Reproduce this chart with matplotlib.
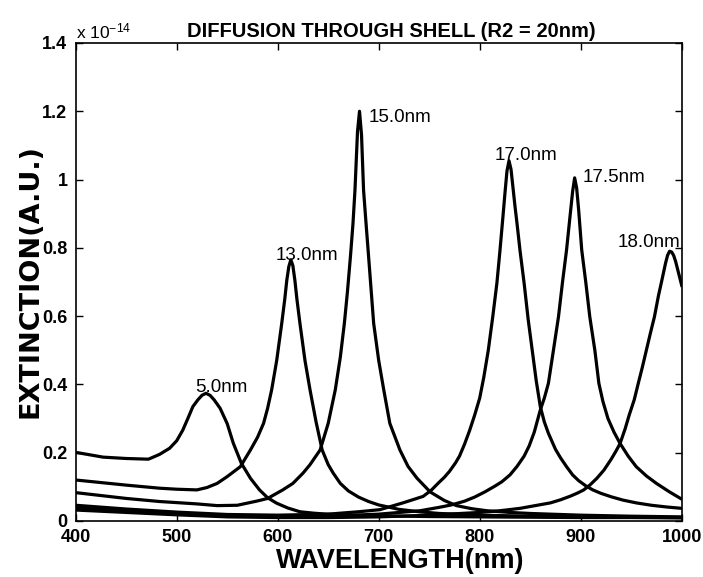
import numpy as np
import matplotlib
matplotlib.use('Agg')
import matplotlib.pyplot as plt
from matplotlib.ticker import FormatStrFormatter

plt.rcParams['font.family'] = ['Liberation Sans', 'DejaVu Sans']
plt.rcParams['mathtext.default'] = 'regular'

# extinction values, in units of 1e-14
wl_5 = [400, 427, 450, 472, 483, 493, 500, 506, 511, 516, 521, 525, 529, 533, 537, 543, 550, 556,
        564, 573, 582, 590, 599, 610, 622, 635, 648, 675, 700, 750, 800, 850, 900, 950, 1000]
ext_5 = [0.201, 0.187, 0.183, 0.181, 0.195, 0.213, 0.235, 0.266, 0.300, 0.335, 0.355, 0.368, 0.374,
         0.368, 0.355, 0.330, 0.285, 0.228, 0.169, 0.125, 0.091, 0.068, 0.052, 0.038, 0.027, 0.023,
         0.020, 0.017, 0.015, 0.013, 0.012, 0.011, 0.010, 0.010, 0.009]

wl_13 = [400, 450, 483, 500, 520, 530, 540, 550, 563, 573, 580, 586, 590, 594, 599, 604, 607, 609,
         611, 613, 615, 617, 619, 622, 627, 632, 638, 644, 650, 655, 662, 670, 680, 690, 700, 720,
         740, 760, 800, 850, 900, 950, 1000]
ext_13 = [0.120, 0.105, 0.096, 0.093, 0.091, 0.098, 0.110, 0.130, 0.159, 0.208, 0.245, 0.286, 0.330,
          0.384, 0.470, 0.579, 0.650, 0.705, 0.745, 0.765, 0.748, 0.705, 0.650, 0.579, 0.470, 0.384,
          0.290, 0.208, 0.165, 0.140, 0.110, 0.088, 0.070, 0.057, 0.047, 0.034, 0.027, 0.022, 0.017,
          0.014, 0.012, 0.011, 0.010]

wl_15 = [400, 450, 483, 520, 540, 560, 579, 590, 605, 615, 625, 632, 642, 650, 657, 662, 666, 669,
         672, 674.5, 676.5, 679, 681, 683, 685, 687.5, 690, 695, 700, 705, 711, 721, 729, 738, 751,
         765, 777, 792, 807, 830, 850, 900, 950, 1000]
ext_15 = [0.083, 0.066, 0.057, 0.050, 0.045, 0.046, 0.058, 0.066, 0.091, 0.110, 0.140, 0.165, 0.208,
          0.286, 0.384, 0.480, 0.579, 0.670, 0.774, 0.870, 0.969, 1.140, 1.200, 1.130, 0.969, 0.870,
          0.774, 0.579, 0.470, 0.384, 0.286, 0.208, 0.160, 0.125, 0.085, 0.060, 0.045, 0.036, 0.030,
          0.025, 0.022, 0.017, 0.014, 0.012]

wl_170 = [400, 450, 500, 550, 600, 650, 680, 701, 724, 744, 752, 759, 765, 770, 776, 780, 785, 790,
          795, 800, 804, 808.5, 813, 817, 820, 823, 825, 827, 829, 831, 833, 835, 837, 840, 844, 848,
          852, 856, 860, 864, 868, 875, 880, 886, 892, 898, 905, 912, 920, 930, 942, 955, 970, 985,
          1000]
ext_170 = [0.046, 0.035, 0.026, 0.019, 0.017, 0.020, 0.027, 0.033, 0.053, 0.072, 0.090, 0.111, 0.128,
           0.145, 0.170, 0.190, 0.225, 0.265, 0.310, 0.360, 0.420, 0.500, 0.600, 0.696, 0.790, 0.891,
           0.960, 1.025, 1.055, 1.030, 0.975, 0.920, 0.870, 0.790, 0.696, 0.590, 0.500, 0.410, 0.335,
           0.290, 0.257, 0.210, 0.185, 0.159, 0.135, 0.118, 0.103, 0.091, 0.081, 0.071, 0.061, 0.053,
           0.046, 0.041, 0.037]

wl_175 = [400, 450, 500, 550, 600, 650, 700, 741, 760, 772, 785, 795, 805, 815, 822, 830, 837, 844,
          849, 854, 860, 864, 868, 873, 878, 882, 886, 889, 892, 894, 896, 898, 901, 905, 909, 914,
          918, 922, 927, 933, 939, 947, 955, 965, 975, 988, 1000]
ext_175 = [0.038, 0.030, 0.022, 0.015, 0.012, 0.014, 0.020, 0.030, 0.040, 0.047, 0.058, 0.070, 0.085,
           0.102, 0.115, 0.135, 0.160, 0.190, 0.220, 0.260, 0.325, 0.360, 0.403, 0.500, 0.598, 0.700,
           0.794, 0.880, 0.965, 1.005, 0.975, 0.910, 0.794, 0.700, 0.598, 0.500, 0.403, 0.350, 0.300,
           0.260, 0.227, 0.190, 0.159, 0.132, 0.110, 0.085, 0.064]

wl_180 = [400, 450, 500, 550, 600, 650, 700, 750, 800, 820, 840, 855, 870, 880, 890, 897, 903, 909,
          916, 923, 930, 935, 939, 944, 948, 953, 957, 961, 965, 969, 973, 977, 980, 984, 986, 988,
          990, 992, 994, 997, 1000]
ext_180 = [0.032, 0.025, 0.018, 0.012, 0.010, 0.010, 0.012, 0.017, 0.025, 0.030, 0.037, 0.045, 0.053,
           0.062, 0.073, 0.082, 0.091, 0.105, 0.125, 0.149, 0.180, 0.205, 0.227, 0.270, 0.310, 0.355,
           0.403, 0.450, 0.500, 0.550, 0.598, 0.660, 0.700, 0.755, 0.778, 0.790, 0.788, 0.778, 0.760,
           0.725, 0.690]

curves = [(wl_5, ext_5), (wl_13, ext_13), (wl_15, ext_15),
          (wl_170, ext_170), (wl_175, ext_175), (wl_180, ext_180)]

# peak labels: text, wavelength, extinction
labels = ['5.0nm', '13.0nm', '15.0nm', '17.0nm', '17.5nm', '18.0nm']
label_x = [518, 598, 690, 815, 902, 937]
label_y = [0.378, 0.765, 1.17, 1.057, 0.994, 0.803]

fig = plt.figure(figsize=(7.03, 5.77), dpi=100)
ax = fig.add_axes([0.1077, 0.0971, 0.862, 0.8284])

for wl, ext in curves:
    ax.plot(wl, ext, color='black', lw=2.3, solid_joinstyle='round')

for t, x, y in zip(labels, label_x, label_y):
    ax.text(x, y, t, fontsize=13.5, ha='left', va='baseline')

ax.set_xlim(400, 1000)
ax.set_ylim(0, 1.4)
ax.set_xticks(np.arange(400, 1001, 100))
ax.set_yticks(np.arange(0, 1.41, 0.2))
ax.yaxis.set_major_formatter(FormatStrFormatter('%g'))
ax.tick_params(direction='in', length=5, width=1, top=True, right=True,
               labelsize=13, pad=6)
for lab in ax.get_xticklabels() + ax.get_yticklabels():
    lab.set_fontweight('bold')
for s in ax.spines.values():
    s.set_linewidth(1.2)

ax.text(0.0, 1.004, 'x 10$^{-14}$', transform=ax.transAxes, fontsize=12.5,
        ha='left', va='bottom')
fig.text(391 / 703, 1 - 37 / 577, 'DIFFUSION THROUGH SHELL (R2 = 20nm)',
         fontsize=14.5, fontweight='bold', ha='center', va='baseline')
fig.text(400 / 703, 1 - 568 / 577, 'WAVELENGTH(nm)', fontsize=19.5,
         fontweight='bold', ha='center', va='baseline')
fig.text(31 / 703, 1 - 281 / 577, 'EXTINCTION(A.U.)', fontsize=19.5,
         fontweight='bold', family='DejaVu Sans', rotation=90,
         ha='center', va='center')

fig.savefig('out.png', dpi=100)
